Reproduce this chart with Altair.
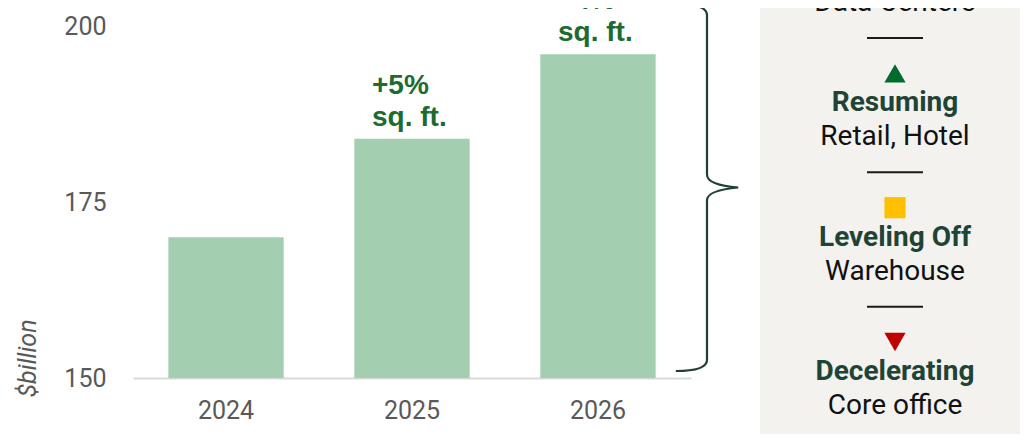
import altair as alt
import pandas as pd

# ---- data -------------------------------------------------------------
years = ["2024", "2025", "2026"]
values = [170, 184, 196]
growth_labels = ["", "+5%\nsq. ft.", "+4%\nsq. ft."]

statuses = ["", "Resuming", "Leveling Off", "Decelerating"]
sectors = ["Data Centers", "Retail, Hotel", "Warehouse", "Core office"]
shapes = ["", "triangle-up", "square", "triangle-down"]
symbol_colors = ["", "#006B2D", "#FFC000", "#C00000"]

bars_df = pd.DataFrame({"year": years, "value": values, "label": growth_labels})
panel_df = pd.DataFrame({
    "group": list(range(len(statuses))),
    "status": statuses,
    "sector": sectors,
    "shape": shapes,
    "color": symbol_colors,
})

# ---- styling ----------------------------------------------------------
FONT = "Roboto"
AXIS_GREY = "#595959"
BAR = "#A3CEAF"
ANNOT = "#1C6B30"
BRACE = "#213F35"
STATUS = "#1F4436"
PANEL_BG = "#F3F2EF"

W, H = 887, 370

base = alt.Chart(bars_df)

x_enc = alt.X(
    "year:N",
    title=None,
    scale=alt.Scale(range=[0, 558], paddingInner=0.38, paddingOuter=0.19),
    axis=alt.Axis(
        labelAngle=0, labelFont=FONT, labelFontSize=25, labelColor=AXIS_GREY,
        labelPadding=20, ticks=False, domainColor="#D9D9D9", domainWidth=2,
        grid=False,
    ),
)
y_enc = alt.Y(
    "value:Q",
    title="$billion",
    scale=alt.Scale(domain=[150, 202.56], nice=False, zero=False),
    axis=alt.Axis(
        values=[150, 175, 200], labelFont=FONT, labelFontSize=25,
        labelColor=AXIS_GREY, labelPadding=27, ticks=False, domain=False,
        grid=False, titleFont=FONT, titleFontSize=25, titleFontStyle="italic",
        titleFontWeight="normal", titleColor=AXIS_GREY, titleAngle=-90,
        titleAlign="left", titleBaseline="middle", titleX=-106, titleY=389,
    ),
)

bars = base.mark_bar(color=BAR).encode(x=x_enc, y=y_enc, y2=alt.datum(150))

annots = base.mark_text(
    font="Liberation Sans", fontWeight="bold", fontSize=28, color=ANNOT,
    align="left", baseline="bottom", dx=-40, dy=-39, lineBreak="\n",
    lineHeight=32,
).encode(x=x_enc, y=y_enc, text="label:N")

main = alt.layer(bars, annots)

# ---- right-hand panel -------------------------------------------------
panel_bg = alt.Chart(panel_df).mark_rect(color=PANEL_BG).encode(
    x=alt.value(627), x2=alt.value(W), y=alt.value(0), y2=alt.value(426)
)

brace_path = ("M-0.17,-1 Q0,-1 0,-0.94 L0,-0.07 Q0,-0.015 0.17,0 "
              "Q0,0.015 0,0.07 L0,0.94 Q0,1 -0.17,1")
brace = alt.Chart(panel_df).transform_filter("datum.group == 0").mark_point(
    shape=brace_path, size=367 * 367, color=BRACE, strokeWidth=2.2,
    filled=False, opacity=1,
).encode(x=alt.value(574), y=alt.value(179.5))

py = alt.Y(
    "group:O",
    scale=alt.Scale(type="point", range=[-39, 364], padding=0),
    axis=None,
)
PX = 762  # panel centre x (plot coords)

symbols = alt.Chart(panel_df).transform_filter("datum.shape != ''").mark_point(
    filled=True, size=450, opacity=1, yOffset=-30, strokeWidth=0,
).encode(
    x=alt.value(PX), y=py,
    shape=alt.Shape("shape:N", scale=None),
    color=alt.Color("color:N", scale=None),
)

status_txt = alt.Chart(panel_df).mark_text(
    font=FONT, fontSize=28, fontWeight="bold", color=STATUS,
    align="center", baseline="middle",
).encode(x=alt.value(PX), y=py, text="status:N")

sector_txt = alt.Chart(panel_df).mark_text(
    font=FONT, fontSize=28, color="#111111", align="center",
    baseline="middle", yOffset=34,
).encode(x=alt.value(PX), y=py, text="sector:N")

separators = alt.Chart(panel_df).transform_filter("datum.group < 3").mark_rule(
    color="#1A1A1A", strokeWidth=2, yOffset=69,
).encode(x=alt.value(PX - 28), x2=alt.value(PX + 28), y=py)

panel = alt.layer(symbols, status_txt, sector_txt, separators)

chart = alt.layer(panel_bg, main, brace, panel).resolve_scale(
    y="independent"
).properties(
    width=W, height=H,
    autosize=alt.AutoSizeParams(type="none"),
    padding={"left": 125, "top": 0, "right": 0, "bottom": 56},
    background="white",
).configure_view(stroke=None)

chart.save("out.html", embed_options={"renderer": "svg", "actions": False})
